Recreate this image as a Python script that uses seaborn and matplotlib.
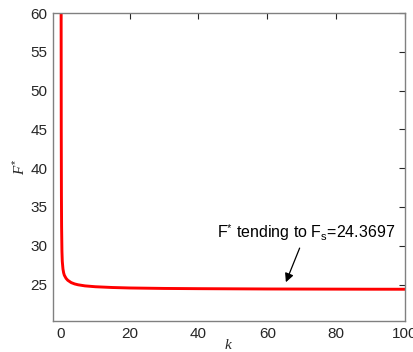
import matplotlib
matplotlib.use("Agg")
import matplotlib.pyplot as plt
import seaborn as sns
import pandas as pd

# Optimal F* versus k, converging to the steady-state value F_s
k_values = [0.03, 0.06, 0.1, 0.15, 0.2, 0.3, 0.4, 0.6, 0.8, 1.0, 1.5, 2.0, 3.0, 4.0, 5.0,
            7.0, 10.0, 15.0, 20.0, 30.0, 40.0, 50.0, 60.0, 70.0, 80.0, 90.0, 100.0]
f_values = [90.0, 62.0, 45.0, 36.5, 32.5, 29.3, 28.0, 27.0, 26.5, 26.2, 25.8, 25.55, 25.25, 25.08, 24.97,
            24.83, 24.72, 24.62, 24.56, 24.50, 24.47, 24.45, 24.43, 24.42, 24.41, 24.40, 24.395]
x_ticks = [0, 20, 40, 60, 80, 100]
y_ticks = [25, 30, 35, 40, 45, 50, 55, 60]
fs_value = 24.3697

df = pd.DataFrame({"k": k_values, "F": f_values})

sns.set_style("white")
plt.rcParams["font.family"] = ["Liberation Sans", "DejaVu Sans"]
plt.rcParams["mathtext.fontset"] = "custom"
plt.rcParams["mathtext.rm"] = "Liberation Sans"
plt.rcParams["mathtext.it"] = "Liberation Serif:italic"

fig = plt.figure(figsize=(4.14, 3.52), dpi=100)
ax = fig.add_axes([0.128, 0.088, 0.85, 0.875])

sns.lineplot(data=df, x="k", y="F", ax=ax, color="#ff0000", linewidth=2.1)

ax.set_xlim(-2.3, 100)
ax.set_ylim(20.3, 60)
ax.set_xticks(x_ticks)
ax.set_yticks(y_ticks)
ax.tick_params(direction="in", length=4, width=0.8, colors="#262626",
               labelsize=11, top=True, right=True, labelcolor="#262626", pad=4)
for s in ax.spines.values():
    s.set_visible(True)
    s.set_color("#808080")
    s.set_linewidth(1.0)

ax.set_xlabel(r"$\mathit{k}$", fontsize=11, labelpad=-2, color="#262626")
ax.set_ylabel(r"$\mathit{F}^{*}$", fontsize=11, labelpad=1.5, color="#262626")

# Arrow pointing at the flat tail of the curve, with its label above
ax.annotate("", xy=(65.4, 25.3), xytext=(69.4, 29.7),
            arrowprops=dict(arrowstyle="-|>", color="black", lw=0.9,
                            mutation_scale=13, shrinkA=0, shrinkB=0))
ax.text(71.4, 31.0, r"F$^{*}$ tending to F$_{\mathrm{s}}$=" + f"{fs_value}",
        ha="center", va="baseline", fontsize=11.5, color="black")

fig.savefig("out.png", dpi=100)
